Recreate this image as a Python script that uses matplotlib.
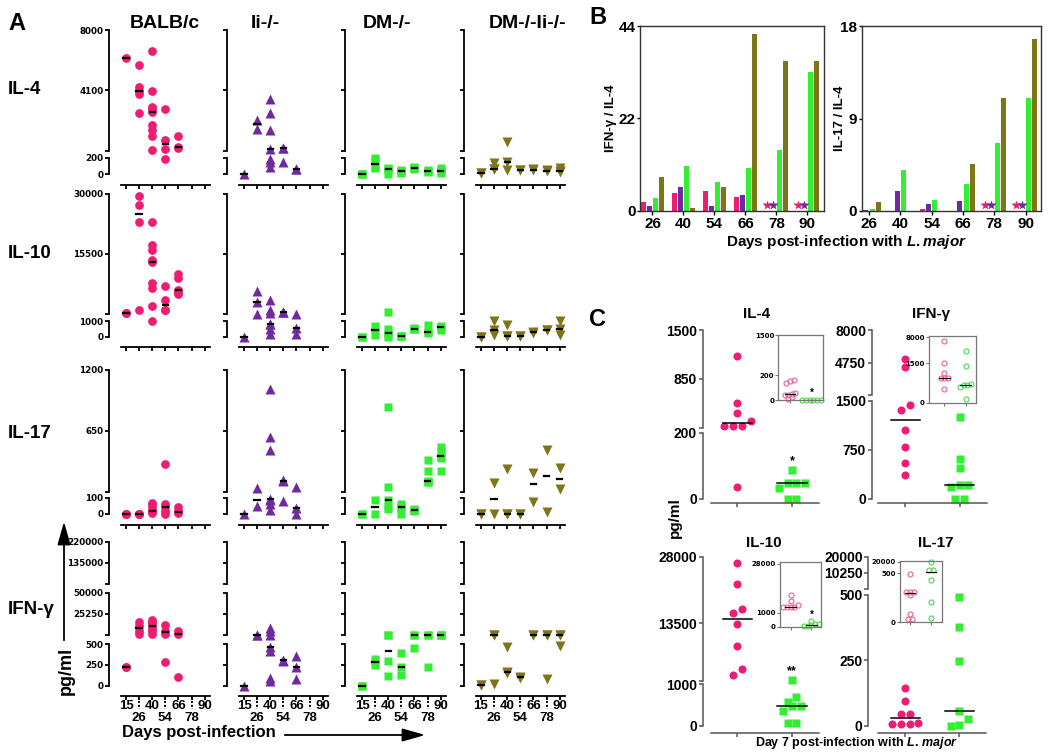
import numpy as np
import matplotlib.pyplot as plt
from matplotlib.patches import FancyArrowPatch
from matplotlib.transforms import blended_transform_factory as blend

plt.rcParams['font.family'] = ['Liberation Sans', 'DejaVu Sans']
plt.rcParams['font.weight'] = 'bold'
plt.rcParams['mathtext.fontset'] = 'custom'
plt.rcParams['mathtext.rm'] = 'Liberation Sans:bold'
plt.rcParams['mathtext.it'] = 'Liberation Sans:italic:bold'
plt.rcParams['mathtext.bf'] = 'Liberation Sans:bold'

# ---------------- data ----------------
DAYS = ['15', '26', '40', '54', '66', '78', '90']
STRAINS = ['BALB/c', 'Ii-/-', 'DM-/-', 'DM-/-Ii-/-']
CYTOKINES = ['IL-4', 'IL-10', 'IL-17', 'IFN-γ']

# panel A: pg/ml per mouse, one list per day (15 ... 90)
IL4_BALB = [[6200], [5750, 4285, 4023, 3850, 2647],
            [6645, 4067, 3040, 2866, 2690, 1839, 1511, 1139, 244],
            [2887, 899, 309, 183], [1161, 400, 375], [], []]
IL4_II = [[0], [2166, 1620], [3521, 2647, 1555, 309, 183, 142, 79],
          [360, 353, 150], [60, 55], [], []]
IL4_DM = [[0, 0, 0], [192, 170, 80, 71], [75, 60, 55, 5], [45, 37, 30, 8],
          [80, 67, 55], [45, 37, 30], [67, 40, 35, 17]]
IL4_DMII = [[12, 8], [128, 66, 58], [760, 140, 50], [54, 50], [55, 50],
            [45, 38], [75, 38, 22]]

IL10_BALB = [[1325, 1300], [29420, 27150, 23090, 1975],
             [23090, 17570, 16430, 14000, 13500, 8470, 7250, 2950, 1000],
             [7660, 4410, 1975, 1900], [10660, 9690, 6850, 6280, 5790], [], []]
IL10_II = [[0], [6600, 4000, 1160], [4410, 1975, 1325, 850, 850, 511, 178],
           [1600, 1570, 1540], [1160, 578, 178], [], []]
IL10_DM = [[0, 0], [690, 400, 67], [1570, 511, 222, 100, 0], [30, 22, 10],
           [540, 511, 480], [778, 289, 260], [700, 622, 444]]
IL10_DMII = [[0, 0], [1000, 444, 111], [778, 44, 40], [25, 20], [300, 250],
             [430, 420], [1000, 490, 130]]

IL17_BALB = [[0, 0, 0], [0, 0, 0], [70, 60, 40, 20, 15, 10, 5],
             [349, 60, 43, 20, 0], [45, 15, 10, 5], [], []]
IL17_II = [[0], [130, 49], [1027, 592, 480, 96, 85, 64, 26], [210, 200, 81],
           [140, 38, 0], [], []]
IL17_DM = [[0, 0], [85, 0], [860, 140, 89, 40, 32], [60, 43, 38, 0],
           [30, 26, 20], [383, 288, 197, 190, 185], [501, 471, 419, 404, 288]]
IL17_DMII = [[0, 0], [182, 0], [302, 0, 0], [0, 0], [270, 72], [480, 10],
             [314, 125]]

IFN_BALB = [[224, 220], [15500, 11000, 5250, 1290],
            [18320, 16000, 14360, 10400, 7000, 5250, 2000],
            [11590, 5250, 1290, 285], [4460, 1690, 102], [], []]
IFN_II = [[0], [600, 550], [8420, 4460, 600, 467, 419, 89, 49], [310, 300],
          [358, 224, 81], [], []]
IFN_DM = [[0, 0], [325, 285, 252], [650, 550, 293, 114], [386, 224, 122],
          [700, 600, 447], [650, 600, 224], [650, 600, 580]]
IFN_DMII = [[10, 5], [620, 600, 20], [460, 160, 150], [100, 95], [620, 600],
            [620, 600, 80], [620, 600, 480]]

# panel B: ratios (nan = not determined, shown as a star)
B_DAYS = ['26', '40', '54', '66', '78', '90']
nan = np.nan
B_IFN_BALB = [2.2, 4.4, 4.7, 3.4, nan, nan]
B_IFN_II = [1.2, 5.8, 1.2, 3.8, nan, nan]
B_IFN_DM = [3.0, 10.6, 6.8, 10.2, 14.6, 33.0]
B_IFN_DMII = [8.0, 0.8, 5.8, 42.2, 35.6, 35.6]
B_IL17_BALB = [0, 0, 0.16, 0, nan, nan]
B_IL17_II = [0.05, 1.9, 0.7, 1.0, nan, nan]
B_IL17_DM = [0.23, 4.0, 1.05, 2.6, 6.6, 11.0]
B_IL17_DMII = [0.92, 0, 0, 4.6, 11.0, 16.7]

# panel C: day 7, BALB/c vs DM-/- (main) and insets
C_IL4_BALB = [1148, 530, 394, 290, 223, 223, 223, 34]
C_IL4_DM = [87, 46, 46, 46, 31, 0, 0]
C_IL4_BALB_IN = [160, 150, 140, 60, 50, 42, 39, 24, 8]
C_IL4_DM_IN = [5, 3, 2, 1, 0, 0]
C_IFN_BALB = [5089, 4344, 1439, 1363, 1058, 788, 549, 356]
C_IFN_DM = [1261, 610, 468, 214, 214, 178, 0, 0]
C_IFN_BALB_IN = [7156, 1500, 1115, 923, 923, 923, 538]
C_IFN_DM_IN = [4530, 1397, 700, 667, 667, 603, 154]
C_IL10_BALB = [26750, 22110, 16590, 15710, 13280, 8570, 3560, 2240]
C_IL10_DM = [1100, 691, 569, 472, 472, 350, 65, 65]
C_IL10_BALB_IN = [10870, 7145, 4910, 4350, 4300, 4200, 4100]
C_IL10_DM_IN = [405, 200, 167, 150, 71, 60]
C_IL17_BALB = [146, 94, 46, 46, 10, 5, 5, 5]
C_IL17_DM = [491, 378, 249, 58, 26, 4, 0]
C_IL17_BALB_IN = [490, 313, 313, 313, 279, 85, 37, 37]
C_IL17_DM_IN = [18900, 6070, 6070, 432, 211, 48]

PINK, PURPLE, GREEN, OLIVE = '#EE1C72', '#6E2A9E', '#33EE33', '#7E7418'
COLORS = [PINK, PURPLE, GREEN, OLIVE]
MARKERS = [('o', 6.3), ('^', 6.6), ('s', 5.6), ('v', 6.6)]

W, H = 1050, 752
fig = plt.figure(figsize=(W / 100, H / 100), dpi=100)


def add_px_axes(x0, y0, x1, y1):
    return fig.add_axes([x0 / W, 1 - y1 / H, (x1 - x0) / W, (y1 - y0) / H])


def ftext(x, y, s, **kw):
    kw.setdefault('ha', 'center')
    kw.setdefault('va', 'center')
    fig.text(x / W, 1 - y / H, s, **kw)


def piecewise(xp, fp):
    xp = np.asarray(xp, float)
    fp = np.asarray(fp, float)
    s0 = (fp[1] - fp[0]) / (xp[1] - xp[0])
    s1 = (fp[-1] - fp[-2]) / (xp[-1] - xp[-2])

    def f(v):
        v = np.asarray(v, float)
        out = np.interp(v, xp, fp)
        out = np.where(v < xp[0], fp[0] + (v - xp[0]) * s0, out)
        return np.where(v > xp[-1], fp[-1] + (v - xp[-1]) * s1, out)
    return f


def broken_axis(ax, segs, top_px, bottom_px, color='k', lw=1.3, draw=True):
    """segs: (lo, hi, y_px of lo, y_px of hi); piecewise-linear y scale"""
    zero = segs[0][2]
    xp, fp, starts = [], [], []
    for i, (lo, hi, ylo, yhi) in enumerate(segs):
        if i:
            lo = lo + (hi - lo) * 1e-6
            starts.append(lo)
            ylo = min(ylo, segs[i - 1][3] - 0.01)
        xp += [lo, hi]
        fp += [zero - ylo, zero - yhi]
    fwd, inv = piecewise(xp, fp), piecewise(fp, xp)
    ax.set_yscale('function', functions=(fwd, inv))
    ax.set_ylim(float(inv(zero - bottom_px)), float(inv(zero - top_px)))
    if draw:
        ax.spines['left'].set_visible(False)
        tr = blend(ax.transAxes, ax.transData)
        for k in range(0, len(xp), 2):
            ax.plot([0, 0], [xp[k], xp[k + 1]], transform=tr, color=color,
                    lw=lw, clip_on=False, solid_capstyle='projecting')
    return fwd, starts


def swarm(vals, fwd, dx, tol):
    v = np.asarray(vals, float)
    order = np.argsort(v)
    pos = fwd(v[order])
    offs = np.zeros(len(v))
    clusters, cur = [], [0]
    for k in range(1, len(v)):
        if pos[k] - pos[cur[0]] < tol:
            cur.append(k)
        else:
            clusters.append(cur)
            cur = [k]
    clusters.append(cur)
    for cl in clusters:
        for j, k in enumerate(cl):
            offs[order[k]] = (j - (len(cl) - 1) / 2) * dx
    return offs


# ---------------- panel A ----------------
A_DATA = {
    'IL-4': [IL4_BALB, IL4_II, IL4_DM, IL4_DMII],
    'IL-10': [IL10_BALB, IL10_II, IL10_DM, IL10_DMII],
    'IL-17': [IL17_BALB, IL17_II, IL17_DM, IL17_DMII],
    'IFN-γ': [IFN_BALB, IFN_II, IFN_DM, IFN_DMII],
}
A_ROWS = {
    'IL-4': dict(segs=[(0, 200, 174, 157.5), (200, 8000, 150.5, 30)], axis=184.5,
                 ticks=[0, 200, 4100, 8000], label_y=89),
    'IL-10': dict(segs=[(0, 1000, 336.5, 321.3), (1000, 30000, 314.2, 193.5)], axis=346.7,
                  ticks=[0, 1000, 15500, 30000], label_y=253),
    'IL-17': dict(segs=[(0, 100, 513.8, 497.9), (100, 1200, 491.8, 369.5)], axis=525,
                  ticks=[0, 100, 650, 1200], label_y=433),
    'IFN-γ': dict(segs=[(0, 500, 685.5, 644), (500, 50000, 634.8, 592.5),
                        (50000, 220000, 584, 541.8)], axis=696.3,
                  ticks=[0, 250, 500, 25250, 50000, 135000, 220000], label_y=609),
}
COL_X = [109, 227, 345, 464]
TITLE_X = [165, 265, 387, 528]
STEP = 13.1

for r, name in enumerate(CYTOKINES):
    lay = A_ROWS[name]
    top = lay['segs'][-1][3]
    for c in range(4):
        x0 = COL_X[c]
        ax = add_px_axes(x0, top, x0 + 101, lay['axis'])
        ax.patch.set_visible(False)
        fwd, starts = broken_axis(ax, lay['segs'], top, lay['axis'])
        ticks = list(lay['ticks']) + starts
        labels = [str(t) for t in lay['ticks']] + [''] * len(starts)
        ax.set_yticks(ticks)
        if c == 0:
            ax.set_yticklabels(labels, fontfamily='DejaVu Sans', fontweight='bold')
        else:
            ax.set_yticklabels([''] * len(ticks))
        ax.tick_params(axis='y', length=3, width=1.3, labelsize=6.3, pad=1)
        ax.set_xlim(-17 / STEP, 84 / STEP)
        for s in ['top', 'right']:
            ax.spines[s].set_visible(False)
        ax.spines['bottom'].set_bounds(-5 / STEP, 84 / STEP)
        ax.spines['bottom'].set_linewidth(1.3)
        ax.set_xticks([0, 2, 4, 6])
        ax.set_xticks([1, 3, 5], minor=True)
        ax.tick_params(axis='x', which='both', length=3, width=1.3)
        if r == 3:
            ax.set_xticklabels([DAYS[i] for i in (0, 2, 4, 6)])
            ax.set_xticklabels([DAYS[i] for i in (1, 3, 5)], minor=True)
            ax.tick_params(axis='x', which='major', labelsize=9.5, pad=0)
            ax.tick_params(axis='x', which='minor', labelsize=9.5, pad=8.5)
            hpx = lay['axis'] - top
            trx = blend(ax.transData, ax.transAxes)
            for xd in (1, 3, 5):
                ax.plot([xd, xd], [-4.5 / hpx, -13 / hpx], transform=trx, color='k',
                        ls=(0, (1, 1)), lw=1.4, clip_on=False)
        else:
            ax.tick_params(axis='x', which='both', labelbottom=False)
        mk, ms = MARKERS[c]
        for d, vals in enumerate(A_DATA[name][c]):
            if not vals:
                continue
            ax.plot([d] * len(vals), vals, mk, ms=ms, color=COLORS[c], mec='none',
                    clip_on=False)
            m = np.median(vals)
            ax.plot([d - 0.2, d + 0.2], [m, m], color='k', lw=1.6, clip_on=False)
        if r == 0:
            ftext(TITLE_X[c], 24, STRAINS[c], fontsize=14)
    ftext(8, lay['label_y'], name, fontsize=13.5, ha='left')

ftext(17, 24, 'A', fontsize=17)
ftext(66, 671, 'pg/ml', fontsize=13, rotation=90)
fig.add_artist(FancyArrowPatch((64 / W, 1 - 643 / H), (64 / W, 1 - 519 / H),
                               transform=fig.transFigure, arrowstyle='-|>,head_length=14,head_width=4',
                               mutation_scale=1, lw=1.3, color='k'))
ftext(122, 733, 'Days post-infection', fontsize=12, ha='left')
fig.add_artist(FancyArrowPatch((282 / W, 1 - 735 / H), (428 / W, 1 - 735 / H),
                               transform=fig.transFigure, arrowstyle='-|>,head_length=14,head_width=4',
                               mutation_scale=1, lw=1.3, color='k'))

# ---------------- panel B ----------------
B_PANELS = [
    dict(x0=640, x1=824, xlim=(-0.403, 5.535), series=[B_IFN_BALB, B_IFN_II, B_IFN_DM, B_IFN_DMII],
         yticks=[0, 22, 44], ylabel='IFN-γ / IL-4', lab_x=611),
    dict(x0=861.5, x1=1040.6, xlim=(-0.24, 5.48), series=[B_IL17_BALB, B_IL17_II, B_IL17_DM, B_IL17_DMII],
         yticks=[0, 9, 18], ylabel='IL-17 / IL-4', lab_x=840),
]
for p in B_PANELS:
    ax = add_px_axes(p['x0'], 26, p['x1'], 211)
    xs0 = np.arange(len(B_DAYS))
    for k, vals in enumerate(p['series']):
        v = np.array(vals, float)
        xs = xs0 + (k - 1.5) * 0.2
        ok = np.isfinite(v)
        ax.bar(xs[ok], v[ok], width=0.16, color=COLORS[k], linewidth=0)
        ax.plot(xs[~ok], np.full((~ok).sum(), 0.035), '*', ms=7.5, color=COLORS[k],
                mec='none', transform=blend(ax.transData, ax.transAxes))
    ax.set_xlim(*p['xlim'])
    ax.set_ylim(0, p['yticks'][-1])
    ax.set_xticks(xs0, B_DAYS)
    ax.set_yticks(p['yticks'])
    ax.tick_params(length=3, width=1, labelsize=11, pad=1)
    ax.tick_params(axis='y', length=2.5, pad=0.5)
    for s in ax.spines.values():
        s.set_linewidth(1)
        s.set_color('#333333')
    ftext(p['lab_x'], 118, p['ylabel'], fontsize=9.5, rotation=90)
ftext(598, 18, 'B', fontsize=17)
ftext(846, 242, r'Days post-infection with $\it{L.major}$', fontsize=11)

# ---------------- panel C ----------------
C_PANELS = [
    dict(title='IL-4', tx=757, ty=314, x0=702.6, x1=819, xs=711, g=(737.4, 792.1), axis=502.7,
         segs=[(0, 200, 498.5, 433), (200, 1500, 427.5, 330)], ticks=[0, 200, 850, 1500],
         data=(C_IL4_BALB, C_IL4_DM), star='*',
         inset=dict(x0=778.3, x1=822.7, g=(790, 811.5), top=335, bottom=400.3,
                    segs=[(0, 200, 400.3, 375), (200, 1500, 375, 335)], ticks=[0, 200, 1500],
                    data=(C_IL4_BALB_IN, C_IL4_DM_IN), star='*')),
    dict(title='IFN-γ', tx=931, ty=314, x0=871.6, x1=986.5, xs=878, g=(905.4, 959.5), axis=502.7,
         segs=[(0, 1500, 498.5, 401), (1500, 8000, 395, 330)], ticks=[0, 750, 1500, 4750, 8000],
         data=(C_IFN_BALB, C_IFN_DM), star='',
         inset=dict(x0=929, x1=976.4, g=(944.3, 965.6), top=336.2, bottom=402.8,
                    segs=[(0, 1500, 402.8, 363.3), (1500, 8000, 363.3, 337.2)], ticks=[0, 1500, 8000],
                    data=(C_IFN_BALB_IN, C_IFN_DM_IN), star='')),
    dict(title='IL-10', tx=764, ty=543, x0=702.6, x1=819, xs=711, g=(737.4, 792.1), axis=732.6,
         segs=[(0, 1000, 725.8, 684.2), (1000, 28000, 680.9, 556.8)], ticks=[0, 1000, 13500, 28000],
         data=(C_IL10_BALB, C_IL10_DM), star='**',
         inset=dict(x0=779.6, x1=821, g=(790.5, 811.4), top=561.9, bottom=626.8,
                    segs=[(0, 1000, 626.8, 612.6), (1000, 28000, 612.6, 563.6)], ticks=[0, 1000, 28000],
                    data=(C_IL10_BALB_IN, C_IL10_DM_IN), star='*')),
    dict(title='IL-17', tx=936, ty=543, x0=868.2, x1=986.5, xs=878, g=(905.4, 959.5), axis=732.6,
         segs=[(0, 500, 725.8, 594.7), (500, 20000, 588.6, 556.8)], ticks=[0, 250, 500, 10250, 20000],
         data=(C_IL17_BALB, C_IL17_DM), star='',
         inset=dict(x0=900, x1=942, g=(910, 931), top=560.7, bottom=622.3,
                    segs=[(0, 500, 622.3, 573.3), (500, 20000, 573.3, 561.7)], ticks=[0, 500, 20000],
                    data=(C_IL17_BALB_IN, C_IL17_DM_IN), star='')),
]
C_MARK = [('o', PINK), ('s', GREEN)]
IN_EDGE = ['#E6639C', '#55D455']

for p in C_PANELS:
    top = p['segs'][-1][3]
    ax = add_px_axes(p['x0'], top, p['x1'], p['axis'])
    ax.patch.set_visible(False)
    fwd, starts = broken_axis(ax, p['segs'], top, p['axis'], color='#555555', lw=1.1)
    ax.set_yticks(list(p['ticks']) + starts)
    ax.set_yticklabels([str(t) for t in p['ticks']] + [''] * len(starts))
    ax.tick_params(axis='y', length=3, width=1.1, color='#555555', labelsize=10, pad=1)
    unit = p['g'][1] - p['g'][0]
    ax.set_xlim((p['x0'] - p['g'][0]) / unit, (p['x1'] - p['g'][0]) / unit)
    for s in ['top', 'right']:
        ax.spines[s].set_visible(False)
    ax.spines['bottom'].set_bounds((p['xs'] - p['g'][0]) / unit, (p['x1'] - p['g'][0]) / unit)
    ax.spines['bottom'].set_color('#555555')
    ax.spines['bottom'].set_linewidth(1.1)
    ax.set_xticks([0, 1], ['', ''])
    ax.tick_params(axis='x', length=3, width=1.1, color='#555555')
    for k, vals in enumerate(p['data']):
        mk, col = C_MARK[k]
        offs = swarm(vals, fwd, 0.16, 7)
        ax.plot(k + offs, vals, mk, ms=5.8, color=col, mec='none', clip_on=False)
        m = np.median(vals)
        ax.plot([k - 0.27, k + 0.27], [m, m], color='k', lw=1.1)
    if p['star']:
        ax.annotate(p['star'], (1, max(p['data'][1])), xytext=(0, 2), textcoords='offset points',
                    ha='center', va='bottom', fontsize=9)
    ftext(p['tx'], p['ty'], p['title'], fontsize=11)

    q = p['inset']
    iax = add_px_axes(q['x0'], q['top'], q['x1'], q['bottom'])
    ifwd, _ = broken_axis(iax, q['segs'], q['top'], q['bottom'], draw=False)
    iax.set_yticks(q['ticks'])
    iax.set_yticklabels([str(t) for t in q['ticks']], fontfamily='DejaVu Sans', fontweight='bold')
    iax.tick_params(axis='y', length=2, width=0.8, color='#777777', labelsize=5, pad=1)
    iu = q['g'][1] - q['g'][0]
    iax.set_xlim((q['x0'] - q['g'][0]) / iu, (q['x1'] - q['g'][0]) / iu)
    iax.set_xticks([0, 1], ['', ''])
    iax.tick_params(axis='x', length=2, width=0.8, color='#777777')
    for s in iax.spines.values():
        s.set_color('#777777')
        s.set_linewidth(0.9)
    for k, vals in enumerate(q['data']):
        offs = swarm(vals, ifwd, 0.17, 3)
        iax.plot(k + offs, vals, 'o', ms=3.6, mfc='none', mec=IN_EDGE[k], mew=0.8, clip_on=False)
        m = np.median(vals)
        iax.plot([k - 0.25, k + 0.25], [m, m], color='k', lw=0.8)
    if q['star']:
        iax.annotate(q['star'], (1, max(q['data'][1])), xytext=(0, 1), textcoords='offset points',
                     ha='center', va='bottom', fontsize=7)

ftext(598, 320, 'C', fontsize=17)
ftext(675, 518, 'pg/ml', fontsize=11, rotation=90)
ftext(857, 743, r'Day 7 post-infection with $\it{L.\,major}$', fontsize=9)

fig.savefig('out.png', dpi=100)
